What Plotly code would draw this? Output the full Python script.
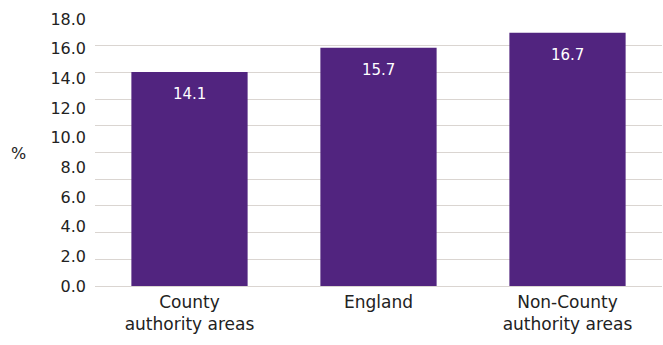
import plotly.graph_objects as go

categories = ["County<br>authority areas", "England", "Non-County<br>authority areas"]
values = [14.1, 15.7, 16.7]
label_ticks = [0, 2, 4, 6, 8, 10, 12, 14, 16, 18]
label_text = ["0.0", "2.0", "4.0", "6.0", "8.0", "10.0", "12.0", "14.0", "16.0", "18.0"]

BAR = "#51247f"
GRID = "#dad5d1"
TEXT = "#222222"
FONT = "'DejaVu Sans', sans-serif"

BAR_TOP = 17.6  # upper limit of the bar scale
N_GRID = 10     # number of grid bands

fig = go.Figure()

fig.add_trace(
    go.Bar(
        x=categories,
        y=values,
        marker=dict(color=BAR, line=dict(width=0)),
        hoverinfo="x+y",
        showlegend=False,
    )
)

# invisible companion trace so the labelled scale is rendered
fig.add_trace(
    go.Scatter(
        x=categories,
        y=[0, 0, 0],
        yaxis="y2",
        mode="none",
        hoverinfo="skip",
        showlegend=False,
    )
)

annotations = [
    dict(
        x=c,
        y=v,
        xref="x",
        yref="y",
        text=f"{v:.1f}",
        showarrow=False,
        yanchor="top",
        yshift=-11,
        font=dict(color="white", size=15, family=FONT),
    )
    for c, v in zip(categories, values)
]
annotations.append(
    dict(
        text="%",
        xref="paper",
        yref="paper",
        x=-0.135,
        y=0.495,
        xanchor="center",
        yanchor="middle",
        showarrow=False,
        font=dict(size=16, color=TEXT, family=FONT),
    )
)

fig.update_layout(
    width=663,
    height=345,
    margin=dict(l=95, r=1, t=19, b=59),
    paper_bgcolor="white",
    plot_bgcolor="white",
    bargap=0.385,
    showlegend=False,
    font=dict(family=FONT, size=16, color=TEXT),
    xaxis=dict(
        showgrid=False,
        showline=False,
        ticks="",
        ticklabelstandoff=4,
        tickfont=dict(size=17),
    ),
    yaxis=dict(
        range=[0, BAR_TOP],
        tick0=0,
        dtick=BAR_TOP / N_GRID,
        showticklabels=False,
        showgrid=True,
        gridcolor=GRID,
        gridwidth=1,
        zeroline=True,
        zerolinecolor=GRID,
        zerolinewidth=1,
        ticks="",
    ),
    yaxis2=dict(
        overlaying="y",
        side="left",
        range=[0, 18],
        tickvals=label_ticks,
        ticktext=label_text,
        showgrid=False,
        zeroline=False,
        showline=False,
        ticks="",
        ticklabelstandoff=8,
        tickfont=dict(size=16, color=TEXT),
    ),
    annotations=annotations,
)

fig.write_html("out.html")
